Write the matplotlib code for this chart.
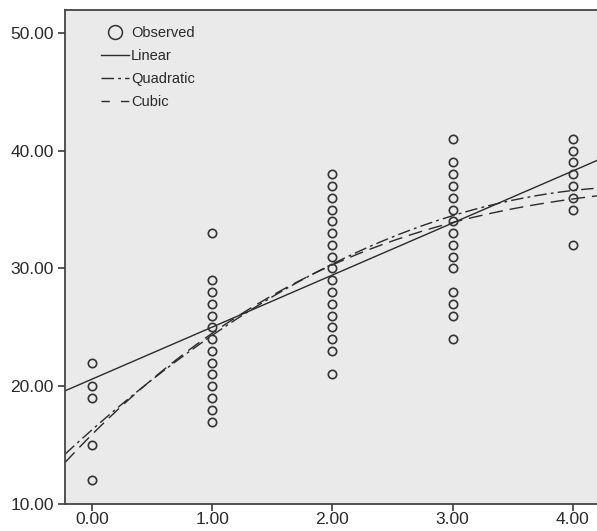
import numpy as np
import matplotlib
matplotlib.use('Agg')
import matplotlib.pyplot as plt
from matplotlib.lines import Line2D

# observed points (x group, y value)
x_obs = [0]*5 + [1]*14 + [2]*17 + [3]*15 + [4]*8
y_obs = ([22, 20, 19, 15, 12] +
         [33] + list(range(17, 30)) +
         list(range(23, 39)) + [21] +
         [41] + list(range(30, 40)) + [28, 27, 26, 24] +
         [41, 40, 39, 38, 37, 36, 35, 32])

# fitted curve coefficients (highest power first)
coef_linear = [4.42, 20.6]
coef_quadratic = [-0.98, 9.0, 16.3]
coef_cubic = [0.1, -1.7, 10.2, 15.9]

xticks = [0, 1, 2, 3, 4]
yticks = [10, 20, 30, 40, 50]

plt.rcParams['font.family'] = ['Liberation Sans', 'DejaVu Sans']

fig = plt.figure(figsize=(5.97, 5.31), dpi=100)
ax = fig.add_axes([65/597, 27/531, 532/597, 494/531])
ax.set_facecolor('#eaeaea')

ax.set_xlim(-0.2245, 4.2)
ax.set_ylim(10, 51.94)

xx = np.linspace(-0.2245, 4.2, 300)
lc = '#2a2a2a'
ax.plot(xx, np.polyval(coef_linear, xx), color=lc, lw=1.0, ls='-')
ax.plot(xx, np.polyval(coef_quadratic, xx), color=lc, lw=1.0, ls=(0, (9, 3, 2, 3)))
ax.plot(xx, np.polyval(coef_cubic, xx), color=lc, lw=1.0, ls=(0, (10, 5)))

ax.plot(x_obs, y_obs, 'o', mfc='none', mec='#333333', mew=1.2, ms=6.0, ls='none')

ax.set_xticks(xticks)
ax.set_xticklabels(['%.2f' % v for v in xticks])
ax.set_yticks(yticks)
ax.set_yticklabels(['%.2f' % v for v in yticks])
ax.tick_params(direction='out', length=5, width=1.2, colors='#3a3a3a',
               labelsize=12.5, labelcolor='#2a2a2a', pad=3)
ax.tick_params(axis='x', pad=1)

for s in ['left', 'bottom', 'top']:
    ax.spines[s].set_color('#444444')
    ax.spines[s].set_linewidth(1.3)
ax.spines['right'].set_visible(False)

handles = [
    Line2D([], [], marker='o', ms=10, mfc='none', mec='#333333', mew=1.1, ls='none'),
    Line2D([], [], color=lc, lw=1.0, ls='-'),
    Line2D([], [], color=lc, lw=1.0, ls=(0, (9, 3, 2, 3))),
    Line2D([], [], color=lc, lw=1.0, ls=(0, (6, 8))),
]
labels = ['Observed', 'Linear', 'Quadratic', 'Cubic']
leg = ax.legend(handles, labels, loc='upper left', bbox_to_anchor=(0.068, 0.968),
                frameon=False, fontsize=10.5, handlelength=1.9, handletextpad=0.15,
                labelspacing=0.62, borderpad=0, borderaxespad=0)
for t in leg.get_texts():
    t.set_color('#2a2a2a')

fig.savefig('out.png', dpi=100)
